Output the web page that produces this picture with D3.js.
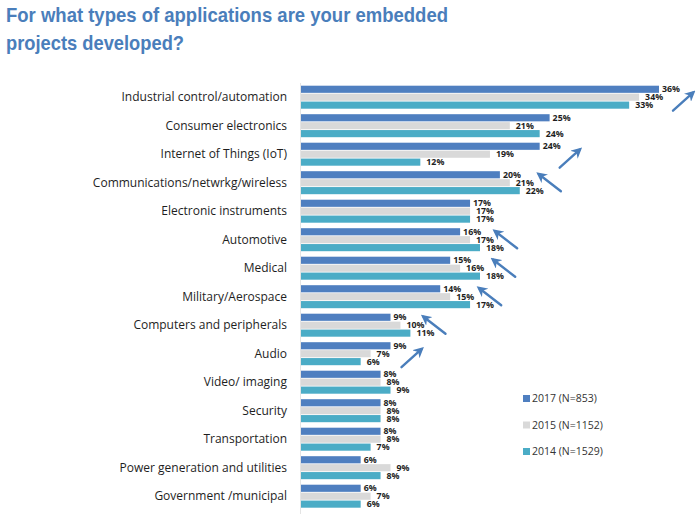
<!DOCTYPE html>
<html><head><meta charset="utf-8">
<script src="https://cdn.jsdelivr.net/npm/d3@7"></script>
<style>body{margin:0;background:#fff}</style>
</head><body>
<svg id="c" width="698" height="514"></svg>
<script>
const categories = ["Industrial control/automation","Consumer electronics","Internet of Things (IoT)","Communications/netwrkg/wireless","Electronic instruments","Automotive","Medical","Military/Aerospace","Computers and peripherals","Audio","Video/ imaging","Security","Transportation","Power generation and utilities","Government /municipal"];
const seriesNames = ["2017 (N=853)","2015 (N=1152)","2014 (N=1529)"];
const v2017 = [36,25,24,20,17,16,15,14,9,9,8,8,8,6,6];
const v2015 = [34,21,19,21,17,17,16,15,10,7,8,8,8,9,7];
const v2014 = [33,24,12,22,17,18,18,17,11,6,9,8,7,8,6];
const colors = ["#4f7fc0","#d9d9d9","#4bacc6"];
const titleLines = ["For what types of applications are your embedded","projects developed?"];
const titleWidths = [442,178];
// annotation arrows: category, direction ("up" = up-right trend, "down" = up-left pointer), offset from bar end
const arrows = [
  {cat:"Industrial control/automation", dir:"up", dx:14},
  {cat:"Internet of Things (IoT)", dir:"up", dx:20},
  {cat:"Communications/netwrkg/wireless", dir:"down", dx:39},
  {cat:"Automotive", dir:"down", dx:35},
  {cat:"Medical", dir:"down", dx:43},
  {cat:"Military/Aerospace", dir:"down", dx:39},
  {cat:"Computers and peripherals", dir:"down", dx:33},
  {cat:"Audio", dir:"up", dx:11}
];

const series = [v2017, v2015, v2014];
const svg = d3.select("#c");

// title
svg.append("g").selectAll("text").data(titleLines).join("text")
  .attr("x", 6).attr("y", (d,i)=>22+i*28)
  .attr("font-family","'Liberation Sans Narrow','Arial Narrow','Liberation Sans',Arial,sans-serif")
  .attr("font-weight","bold").attr("font-size",20.5)
  .attr("textLength",(d,i)=>titleWidths[i]).attr("lengthAdjust","spacingAndGlyphs")
  .attr("fill","#4a7ebb").text(d=>d);

const x = d3.scaleLinear().domain([0,36]).range([301,659]);
const y = d3.scaleBand().domain(categories).range([82.95, 82.95+15*28.5]).paddingInner(0.193).paddingOuter(0.0965);
const yi = d3.scaleBand().domain([0,1,2]).range([0, y.bandwidth()]).paddingInner(0.1);

// faint axis line
svg.append("line").attr("x1",x(0)-0.5).attr("x2",x(0)-0.5)
  .attr("y1",y.range()[0]).attr("y2",514).attr("stroke","#e4e4e4").attr("stroke-width",1);

const rows = svg.append("g").selectAll("g").data(categories).join("g")
  .attr("transform", d=>`translate(0,${y(d)})`);

rows.append("text").attr("x",287).attr("y",y.bandwidth()/2).attr("dy","0.35em")
  .attr("text-anchor","end").attr("font-family","'Open Sans',sans-serif")
  .attr("font-size",12).attr("fill","#1e1e1e").text(d=>d);

rows.each(function(cat, ci){
  const g = d3.select(this);
  series.forEach((vals, si)=>{
    g.append("rect").attr("x",x(0)).attr("y",yi(si))
      .attr("width",x(vals[ci])-x(0)).attr("height",yi.bandwidth()).attr("fill",colors[si]);
    g.append("text").attr("x",x(vals[ci])+(si===0?3:6)).attr("y",yi(si)+yi.bandwidth()/2).attr("dy","0.36em")
      .attr("font-family","'Open Sans',sans-serif").attr("font-weight","bold")
      .attr("font-size",8.8).attr("fill","#1e1e1e").text(vals[ci]+"%");
  });
});

// legend
const lg = svg.append("g").selectAll("g").data(seriesNames).join("g")
  .attr("transform",(d,i)=>`translate(523,${398.5+i*26.5})`);
lg.append("rect").attr("x",0).attr("y",-3.5).attr("width",7).attr("height",7).attr("fill",(d,i)=>colors[i]);
lg.append("text").attr("x",9).attr("y",0).attr("dy","0.35em")
  .attr("font-family","'Open Sans',sans-serif").attr("font-size",10.5).attr("fill","#333").text(d=>d);

// arrows
const defs = svg.append("defs");
defs.append("marker").attr("id","ah").attr("viewBox","0 0 10 10").attr("refX",7).attr("refY",5)
  .attr("markerWidth",4.5).attr("markerHeight",4.5).attr("orient","auto")
  .append("path").attr("d","M0,0 L10,5 L0,10 L3,5 Z").attr("fill","#4a7ebb");
svg.append("g").selectAll("line").data(arrows).join("line")
  .each(function(a){
    const ci = categories.indexOf(a.cat);
    const top = y(a.cat), bot = y(a.cat)+y.bandwidth();
    let x1,y1,x2,y2;
    if(a.dir==="up"){
      const m = Math.max(v2017[ci],v2015[ci],v2014[ci]);
      x1 = x(m)+a.dx; y1 = bot+2; x2 = x1+20; y2 = y1-18;
    } else {
      x2 = x(v2017[ci])+a.dx; y2 = top+3; x1 = x2+22; y1 = y2+17;
    }
    d3.select(this).attr("x1",x1).attr("y1",y1).attr("x2",x2).attr("y2",y2);
  })
  .attr("stroke","#4a7ebb").attr("stroke-width",2.4).attr("stroke-linecap","round")
  .attr("marker-end","url(#ah)");
</script>
</body></html>
